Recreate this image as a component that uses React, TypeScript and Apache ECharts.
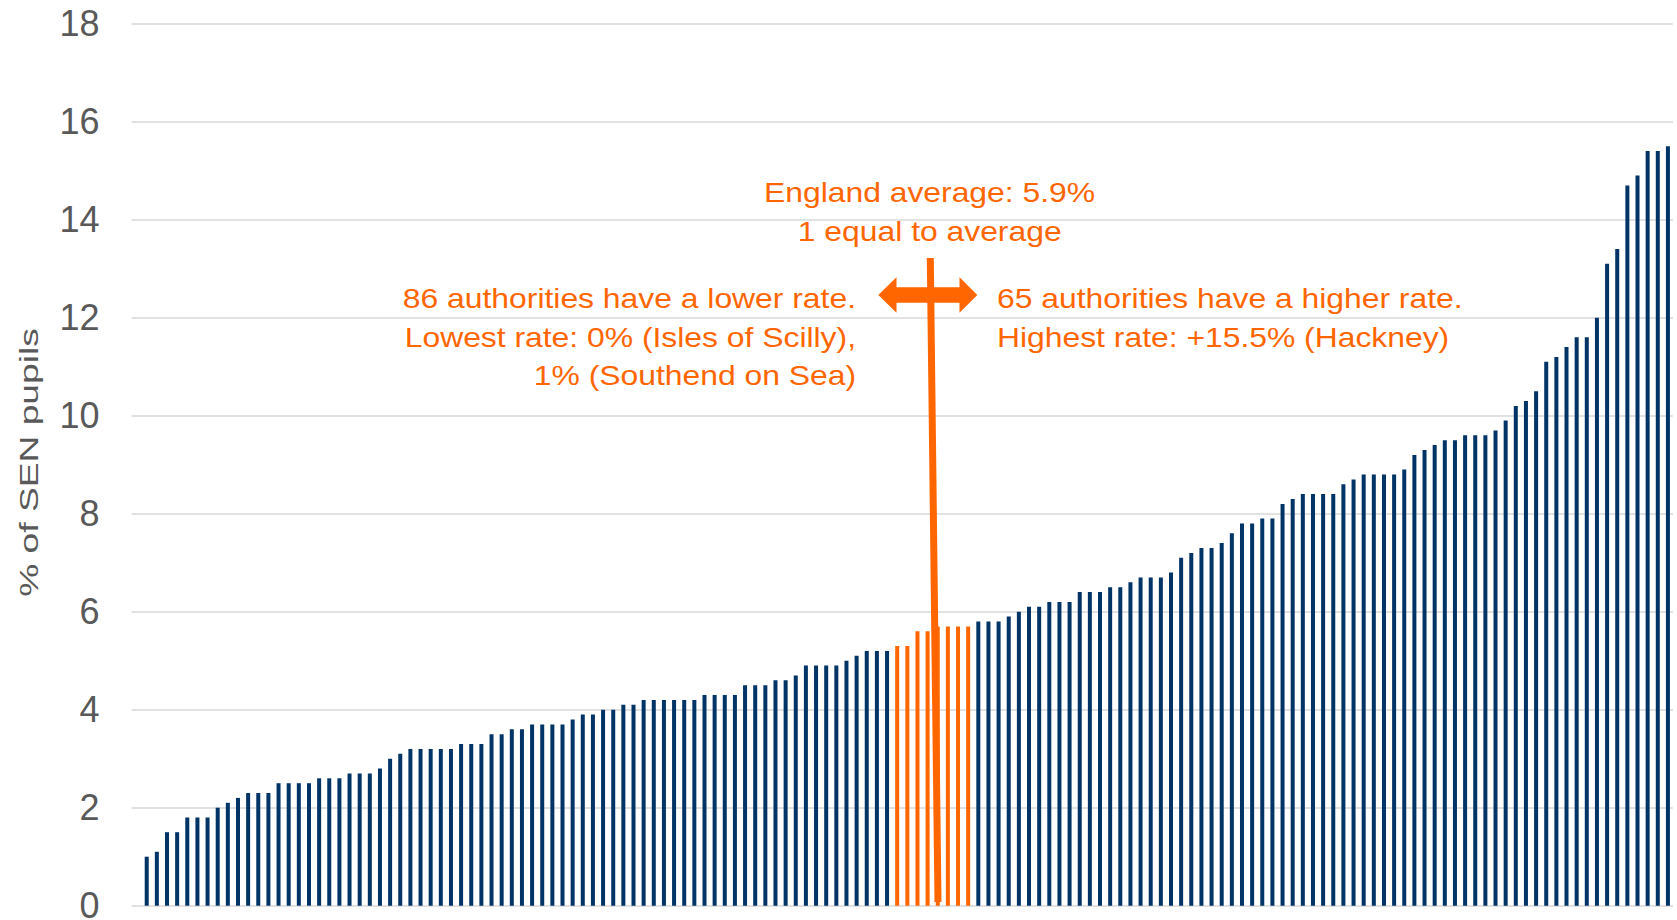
import React, { useEffect, useRef } from "react";
import * as echarts from "echarts";

// Local authorities ranked by % of SEN pupils (152 authorities)
const rates: number[] = [
  0, 1.0, 1.1, 1.5, 1.5, 1.8, 1.8, 1.8, 2.0, 2.1,
  2.2, 2.3, 2.3, 2.3, 2.5, 2.5, 2.5, 2.5, 2.6, 2.6,
  2.6, 2.7, 2.7, 2.7, 2.8, 3.0, 3.1, 3.2, 3.2, 3.2,
  3.2, 3.2, 3.3, 3.3, 3.3, 3.5, 3.5, 3.6, 3.6, 3.7,
  3.7, 3.7, 3.7, 3.8, 3.9, 3.9, 4.0, 4.0, 4.1, 4.1,
  4.2, 4.2, 4.2, 4.2, 4.2, 4.2, 4.3, 4.3, 4.3, 4.3,
  4.5, 4.5, 4.5, 4.6, 4.6, 4.7, 4.9, 4.9, 4.9, 4.9,
  5.0, 5.1, 5.2, 5.2, 5.2, 5.3, 5.3, 5.6, 5.6, 5.7,
  5.7, 5.7, 5.7, 5.8, 5.8, 5.8, 5.9, 6.0, 6.1, 6.1,
  6.2, 6.2, 6.2, 6.4, 6.4, 6.4, 6.5, 6.5, 6.6, 6.7,
  6.7, 6.7, 6.8, 7.1, 7.2, 7.3, 7.3, 7.4, 7.6, 7.8,
  7.8, 7.9, 7.9, 8.2, 8.3, 8.4, 8.4, 8.4, 8.4, 8.6,
  8.7, 8.8, 8.8, 8.8, 8.8, 8.9, 9.2, 9.3, 9.4, 9.5,
  9.5, 9.6, 9.6, 9.6, 9.7, 9.9, 10.2, 10.3, 10.5, 11.1,
  11.2, 11.4, 11.6, 11.6, 12.0, 13.1, 13.4, 14.7, 14.9, 15.4,
  15.4, 15.5,
];

// Ranks highlighted in orange (positions in the ranked list)
const highlighted: number[] = [75, 76, 77, 78, 79, 80, 81, 82];

const categories: string[] = rates.map((_, i) => String(i + 1));

const yTicks = { min: 0, max: 18, interval: 2 };

const yTitle = "% of SEN pupils";
const avgLines = ["England average: 5.9%", "1 equal to average"];
const lowerLines = [
  "86 authorities have a lower rate.",
  "Lowest rate: 0% (Isles of Scilly),",
  "1% (Southend on Sea)",
];
const higherLines = [
  "65 authorities have a higher rate.",
  "Highest rate: +15.5% (Hackney)",
];

const NAVY = "#003366";
const ORANGE = "#FF6600";
const FONT = "'Liberation Sans', Arial, Helvetica, sans-serif";

export default function App() {
  const ref = useRef<HTMLDivElement>(null);

  useEffect(() => {
    if (!ref.current) return;
    const chart = echarts.init(ref.current, undefined, { renderer: "svg" });

    const annText = (
      text: string,
      x: number,
      y: number,
      align: "left" | "center" | "right"
    ) => ({
      type: "text",
      x,
      y,
      scaleX: 1.18,
      z: 100,
      style: {
        text,
        fill: ORANGE,
        font: `27px ${FONT}`,
        textAlign: align,
        textVerticalAlign: "middle",
      },
    });

    const option: any = {
      animation: false,
      backgroundColor: "#ffffff",
      grid: {
        left: 131.5,
        right: 4,
        top: 23.7,
        bottom: 14.3,
        containLabel: false,
        outerBoundsMode: "none",
      },
      xAxis: {
        type: "category",
        data: categories,
        axisLine: { show: false },
        axisTick: { show: false },
        axisLabel: { show: false },
        splitLine: { show: false },
      },
      yAxis: {
        type: "value",
        min: yTicks.min,
        max: yTicks.max,
        interval: yTicks.interval,
        axisLine: { show: false },
        axisTick: { show: false },
        axisLabel: {
          color: "#595959",
          fontSize: 36,
          fontFamily: FONT,
          margin: 32,
        },
        splitLine: { lineStyle: { color: "#D9D9D9", width: 1.5 } },
      },
      series: [
        {
          type: "bar",
          barWidth: 4,
          data: rates.map((v, i) => ({
            value: v,
            itemStyle: { color: highlighted.includes(i) ? ORANGE : NAVY },
          })),
        },
      ],
      graphic: [
        {
          type: "text",
          x: 29,
          y: 462.5,
          rotation: Math.PI / 2,
          scaleX: 1.43,
          style: {
            text: yTitle,
            fill: "#595959",
            font: `26px ${FONT}`,
            textAlign: "center",
            textVerticalAlign: "middle",
          },
        },
        annText(avgLines[0], 929.5, 192.6, "center"),
        annText(avgLines[1], 929.7, 231.5, "center"),
        annText(lowerLines[0], 856, 298.4, "right"),
        annText(lowerLines[1], 856, 336.9, "right"),
        annText(lowerLines[2], 856, 375.4, "right"),
        annText(higherLines[0], 997, 298.4, "left"),
        annText(higherLines[1], 997, 336.9, "left"),
        {
          type: "line",
          z: 100,
          shape: { x1: 930.3, y1: 258, x2: 938, y2: 902 },
          style: { stroke: ORANGE, lineWidth: 7 },
        },
        {
          type: "polygon",
          z: 101,
          shape: {
            points: [
              [878.3, 295],
              [896.5, 277.3],
              [896.5, 287.3],
              [959.5, 287.3],
              [959.5, 277.3],
              [977.3, 295],
              [959.5, 312.7],
              [959.5, 302.7],
              [896.5, 302.7],
              [896.5, 312.7],
            ],
          },
          style: { fill: ORANGE },
        },
      ],
    };

    chart.setOption(option);
    return () => chart.dispose();
  }, []);

  return (
    <div
      ref={ref}
      style={{ position: "fixed", left: 0, top: 0, width: 1677, height: 920, background: "#fff" }}
    />
  );
}
